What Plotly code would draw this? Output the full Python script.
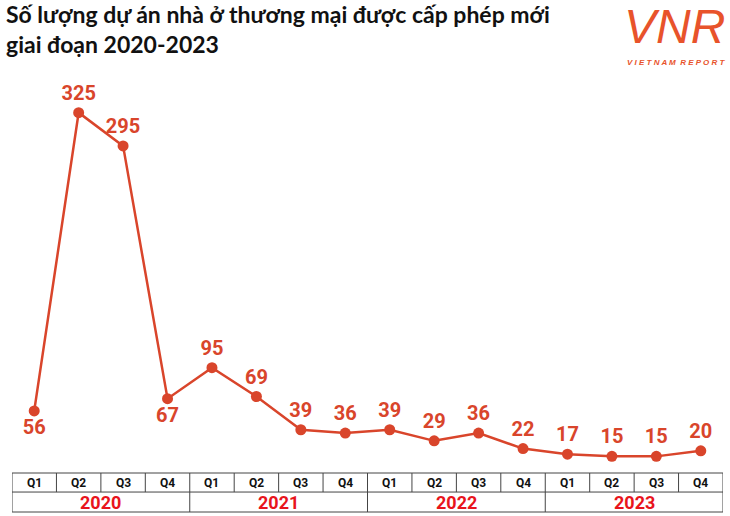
import plotly.graph_objects as go

quarters = ["Q1", "Q2", "Q3", "Q4"] * 4
years = ["2020", "2021", "2022", "2023"]
values = [56, 325, 295, 67, 95, 69, 39, 36, 39, 29, 36, 22, 17, 15, 15, 20]
label_pos = ["bottom center", "top center", "top center", "bottom center"] + ["top center"] * 12

RED = "#d9452b"
NUMFONT = "Roboto, sans-serif"
xs = list(range(len(values)))
fig = go.Figure()
fig.add_trace(go.Scatter(
    x=xs, y=values, mode="lines+markers+text",
    line=dict(color=RED, width=2.5), marker=dict(color=RED, size=11),
    text=[str(v) for v in values], textposition=label_pos,
    textfont=dict(color=RED, size=20, family=NUMFONT, weight="bold"),
    cliponaxis=False, hoverinfo="skip"))

shapes = []
r1t, r1b, r2b = 0.09375, 0.048, 0.0
line = dict(color="#444", width=1)
shapes.append(dict(type="rect", xref="x", yref="paper", x0=-0.5, x1=15.5, y0=r2b, y1=r1t, line=line))
shapes.append(dict(type="line", xref="x", yref="paper", x0=-0.5, x1=15.5, y0=r1b, y1=r1b, line=line))
ann = []
for i, q in enumerate(quarters):
    if i > 0:
        y0 = r2b if i % 4 == 0 else r1b
        shapes.append(dict(type="line", xref="x", yref="paper", x0=i - 0.5, x1=i - 0.5, y0=y0, y1=r1t, line=line))
    ann.append(dict(x=i, y=(r1t + r1b) / 2, xref="x", yref="paper", yanchor="middle", xanchor="center",
                    text="<b>" + q + "</b>", showarrow=False,
                    font=dict(size=12, color="#111", family=NUMFONT)))
for j, yr in enumerate(years):
    ann.append(dict(x=j * 4 + 1.5, y=(r1b + r2b) / 2, xref="x", yref="paper", yanchor="middle", xanchor="center",
                    text=yr, showarrow=False,
                    font=dict(size=18, color="#e8141c", family=NUMFONT, weight="bold")))
ann.append(dict(x=0, y=1, xref="paper", yref="paper", xshift=-8, yshift=98, xanchor="left", yanchor="top",
                align="left", showarrow=False,
                text="<b>Số lượng dự án nhà ở thương mại được cấp phép mới<br>giai đoạn 2020-2023</b>",
                font=dict(size=23, color="#111", family="Lato, sans-serif")))
ann.append(dict(x=1, y=1, xref="paper", yref="paper", yshift=98, xshift=4, xanchor="right", yanchor="top",
                showarrow=False, text="<i>VNR</i>",
                font=dict(size=48, color="#e8532b", family="Liberation Sans, sans-serif")))
ann.append(dict(x=1, y=1, xref="paper", yref="paper", yshift=40, xshift=4, xanchor="right", yanchor="top",
                showarrow=False, text="<i><b>V I E T N A M  R E P O R T</b></i>",
                font=dict(size=8, color="#e8532b", family="Liberation Sans, sans-serif")))

fig.update_layout(
    width=730, height=516, margin=dict(l=12, r=7, t=96, b=4),
    paper_bgcolor="white", plot_bgcolor="white", showlegend=False,
    xaxis=dict(range=[-0.5, 15.5], visible=False),
    yaxis=dict(range=[0, 340], visible=False, domain=[0.09375, 1]),
    shapes=shapes, annotations=ann)
fig.write_html("out.html", config={"displayModeBar": False},
               post_script="document.body.style.margin='0';")
